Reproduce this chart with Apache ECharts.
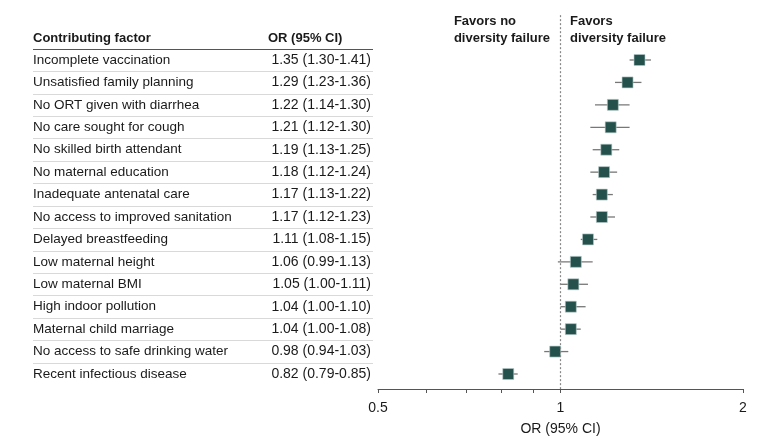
<!DOCTYPE html>
<html><head><meta charset="utf-8">
<script src="https://cdn.jsdelivr.net/npm/echarts@6/dist/echarts.min.js"></script>
<style>html,body{margin:0;padding:0;background:#fff}#c{width:780px;height:445px}</style>
</head><body><div id="c"></div>
<script>
const factors = ["Incomplete vaccination","Unsatisfied family planning","No ORT given with diarrhea","No care sought for cough","No skilled birth attendant","No maternal education","Inadequate antenatal care","No access to improved sanitation","Delayed breastfeeding","Low maternal height","Low maternal BMI","High indoor pollution","Maternal child marriage","No access to safe drinking water","Recent infectious disease"];
const orValues = [1.35,1.29,1.22,1.21,1.19,1.18,1.17,1.17,1.11,1.06,1.05,1.04,1.04,0.98,0.82];
const ciLow = [1.30,1.23,1.14,1.12,1.13,1.12,1.13,1.12,1.08,0.99,1.00,1.00,1.00,0.94,0.79];
const ciHigh = [1.41,1.36,1.30,1.30,1.25,1.24,1.22,1.23,1.15,1.13,1.11,1.10,1.08,1.03,0.85];
const tickValues = [0.5,0.6,0.7,0.8,0.9,1,2];
const labelValues = [0.5,1,2];

const FONT = "Liberation Sans";
const TXT = "#1a1a1a";
const fmt = v => v.toFixed(2);
const rows = factors.map((f,i)=>[i, orValues[i], ciLow[i], ciHigh[i], f, fmt(orValues[i])+" ("+fmt(ciLow[i])+"-"+fmt(ciHigh[i])+")"]);

const chart = echarts.init(document.getElementById('c'));
chart.setOption({
  animation:false,
  grid:{left:378,right:37,top:15.14,bottom:56},
  xAxis:{type:'log',logBase:2,min:0.5,max:2,position:'bottom',
    name:'OR (95% CI)',nameLocation:'middle',nameGap:33,
    nameTextStyle:{fontFamily:FONT,fontSize:14,color:TXT},
    axisLine:{onZero:false,lineStyle:{color:'#555',width:1}},
    axisTick:{customValues:tickValues,length:4,lineStyle:{color:'#555'}},
    axisLabel:{customValues:labelValues,fontFamily:FONT,fontSize:14,color:TXT,margin:12,formatter:v=>String(v)},
    splitLine:{show:false},minorTick:{show:false}},
  yAxis:{type:'value',inverse:true,min:-2,max:14.669,show:false},
  graphic:[
    {type:'text',left:33,top:32,style:{text:'Contributing factor',fontFamily:FONT,fontWeight:'bold',fontSize:13,fill:TXT}},
    {type:'text',left:268,top:32,style:{text:'OR (95% CI)',fontFamily:FONT,fontWeight:'bold',fontSize:13,fill:TXT}},
    {type:'line',shape:{x1:33,y1:49.5,x2:373,y2:49.5},style:{stroke:'#555',lineWidth:1.2}},
    {type:'text',right:230,top:13,style:{text:'Favors no\ndiversity failure',align:'right',fontFamily:FONT,fontWeight:'bold',fontSize:13,lineHeight:17,fill:TXT}},
    {type:'text',left:570,top:13,style:{text:'Favors\ndiversity failure',fontFamily:FONT,fontWeight:'bold',fontSize:13,lineHeight:17,fill:TXT}}
  ],
  series:[
    {type:'custom',data:rows,clip:false,silent:true,z:1,
     renderItem:(params,api)=>{
       const i = api.value(0);
       const y = api.coord([1,i])[1];
       const children = [
         {type:'text',style:{x:33,y:y,text:factors[i],fontFamily:FONT,fontSize:13.5,fill:TXT,verticalAlign:'middle'}},
         {type:'text',style:{x:371,y:y,text:rows[i][5],fontFamily:FONT,fontSize:14,fill:TXT,verticalAlign:'middle',align:'right'}}
       ];
       if(i<factors.length-1){
         children.push({type:'line',shape:{x1:33,y1:Math.round(y+11.2)+0.5,x2:373,y2:Math.round(y+11.2)+0.5},style:{stroke:'#d9d9d9',lineWidth:1}});
       }
       return {type:'group',children};
     }},
    {type:'custom',data:rows,z:3,silent:true,
     renderItem:(params,api)=>{
       const i = api.value(0);
       const p = api.coord([api.value(1),i]);
       const lo = api.coord([api.value(2),i]);
       const hi = api.coord([api.value(3),i]);
       const s = 11;
       return {type:'group',children:[
         {type:'line',shape:{x1:lo[0],y1:p[1],x2:hi[0],y2:p[1]},style:{stroke:'#777',lineWidth:1.3}},
         {type:'rect',shape:{x:p[0]-s/2,y:p[1]-s/2,width:s,height:s},style:{fill:'#25514d',stroke:'#b9cccb',lineWidth:0.6}}
       ]};
     },
     markLine:{silent:true,symbol:'none',label:{show:false},
       lineStyle:{type:[2,2],color:'#888',width:1.2},
       data:[{xAxis:1}]}}
  ]
});
</script></body></html>
